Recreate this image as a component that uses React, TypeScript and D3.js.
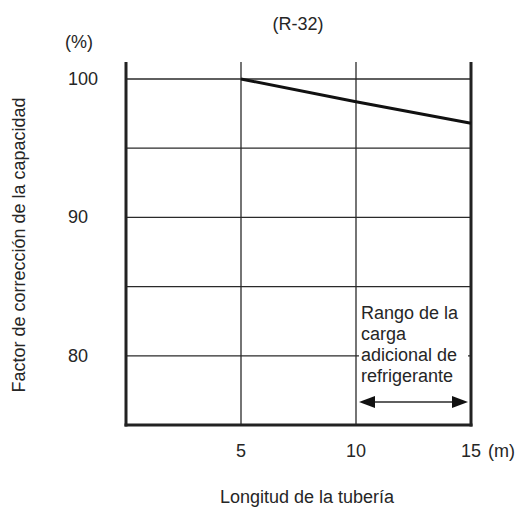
import React from "react";
import * as d3 from "d3";

// Pipe length (m) vs capacity correction factor (%)
const pipeLength = [5, 10, 15];
const correction = [100, 98.35, 96.8];
const xTicks = [5, 10, 15];
const yTicks = [100, 90, 80];
const yGrid = [100, 95, 90, 85, 80];
const xGrid = [5, 10];
const noteLines = ["Rango de la", "carga", "adicional de", "refrigerante"];

const width = 522;
const height = 511;
const font = "Arial, 'Liberation Sans', Helvetica, sans-serif";

const App = () => {
  const x = d3.scaleLinear().domain([0, 15]).range([126, 471]);
  const y = d3.scaleLinear().domain([75, 100]).range([425, 79]);
  const top = 62;

  const line = d3
    .line<number>()
    .x((_, i) => x(pipeLength[i]))
    .y((d) => y(d));

  const gridColor = "#2a2a2a";
  const textColor = "#262626";

  return (
    <svg
      width={width}
      height={height}
      style={{ position: "absolute", left: 0, top: 0, background: "#fff" }}
      fontFamily={font}
    >
      {/* title */}
      <text x={298} y={30} fontSize={18} textAnchor="middle" fill={textColor}>
        (R-32)
      </text>
      <text x={65} y={48} fontSize={18} fill={textColor}>
        (%)
      </text>

      {/* horizontal grid */}
      {yGrid.map((v) => (
        <line
          key={"h" + v}
          x1={x(0)}
          x2={x(15)}
          y1={y(v)}
          y2={y(v)}
          stroke={gridColor}
          strokeWidth={1.3}
        />
      ))}
      {/* vertical grid */}
      {xGrid.map((v) => (
        <line
          key={"v" + v}
          x1={x(v)}
          x2={x(v)}
          y1={top}
          y2={y(75)}
          stroke={gridColor}
          strokeWidth={1.3}
        />
      ))}

      {/* note box with white background over the grid */}
      <rect x={x(10) + 3} y={298} width={x(15) - x(10) - 6} height={92} fill="#fff" />
      {noteLines.map((t, i) => (
        <text key={t} x={x(10) + 5} y={319 + i * 21} fontSize={18} fill={textColor}>
          {t}
        </text>
      ))}
      {/* double arrow */}
      <line x1={x(10) + 14} x2={x(15) - 14} y1={402} y2={402} stroke={gridColor} strokeWidth={1.5} />
      <path
        d={`M${x(10) + 3},402 L${x(10) + 19},396 L${x(10) + 19},408 Z`}
        fill="#111"
      />
      <path
        d={`M${x(15) - 3},402 L${x(15) - 19},396 L${x(15) - 19},408 Z`}
        fill="#111"
      />

      {/* axes frame */}
      <line x1={x(0)} x2={x(0)} y1={top} y2={y(75) + 1.5} stroke="#222" strokeWidth={3} />
      <line x1={x(15)} x2={x(15)} y1={top} y2={y(75) + 1.5} stroke="#222" strokeWidth={3} />
      <line x1={x(0) - 1.5} x2={x(15) + 1.5} y1={y(75)} y2={y(75)} stroke="#222" strokeWidth={3} />

      {/* data line */}
      <path d={line(correction) ?? ""} fill="none" stroke="#111" strokeWidth={3} />

      {/* y tick labels */}
      {yTicks.map((v) => (
        <text key={"yl" + v} x={68} y={y(v) + 6} fontSize={18} fill={textColor}>
          {v}
        </text>
      ))}
      {/* x tick labels */}
      {xTicks.map((v) => (
        <text key={"xl" + v} x={x(v)} y={457} fontSize={18} textAnchor="middle" fill={textColor}>
          {v}
        </text>
      ))}
      <text x={488} y={457} fontSize={18} fill={textColor}>
        (m)
      </text>

      {/* axis titles */}
      <text x={307} y={503} fontSize={18} textAnchor="middle" fill={textColor}>
        Longitud de la tubería
      </text>
      <text
        transform={`translate(25, 245) rotate(-90)`}
        fontSize={18}
        textAnchor="middle"
        fill={textColor}
      >
        Factor de corrección de la capacidad
      </text>
    </svg>
  );
};

export default App;
